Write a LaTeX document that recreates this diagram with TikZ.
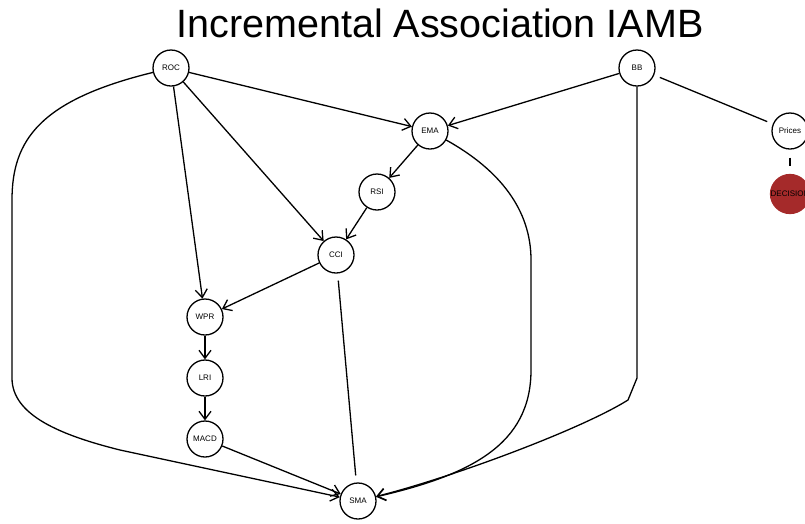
\documentclass[tikz,border=0pt]{standalone}
\usepackage{fontspec}
\setmainfont{Liberation Sans}
\usetikzlibrary{arrows.meta}
\definecolor{decred}{RGB}{165,42,42}
\begin{document}
\begin{tikzpicture}[x=1pt,y=-1pt,
  nd/.style={circle,draw,line width=1.3pt,minimum size=36pt,inner sep=0pt,font=\fontsize{8}{9}\selectfont},
  dirE/.style={line width=1.3pt,-{Straight Barb[length=8pt,width=12pt]}},
  undE/.style={line width=1.3pt,shorten <=6pt,shorten >=6pt}]
\useasboundingbox (0,0) rectangle (805,523);
\node[anchor=base,font=\fontsize{39.5}{44}\selectfont,inner sep=0pt] (title) at (440,37) {Incremental Association IAMB};
% nodes
\node[nd] (ROC) at (171,68) {ROC};
\node[nd] (BB) at (637,68) {BB};
\node[nd] (EMA) at (430,131) {EMA};
\node[nd] (Prices) at (790,131) {Prices};
\node[nd,draw=decred,fill=decred] (DEC) at (790,194) {DECISION};
\node[nd] (RSI) at (377,192) {RSI};
\node[nd] (CCI) at (336,255) {CCI};
\node[nd] (WPR) at (205,317) {WPR};
\node[nd] (LRI) at (205,378) {LRI};
\node[nd] (MACD) at (205,439) {MACD};
\node[nd] (SMA) at (358,501) {SMA};
% straight directed edges
\draw[dirE] (ROC) -- (EMA);
\draw[dirE] (ROC) -- (CCI);
\draw[dirE] (ROC) -- (WPR);
\draw[dirE] (BB) -- (EMA);
\draw[dirE] (EMA) -- (RSI);
\draw[dirE] (RSI) -- (CCI);
\draw[dirE] (CCI) -- (WPR);
\draw[dirE] (WPR) -- (LRI);
\draw[dirE] (LRI) -- (MACD);
\draw[dirE] (MACD) -- (SMA);
% undirected edges
\draw[undE] (BB) -- (Prices);
\draw[undE,shorten <=8pt,shorten >=8pt] (Prices) -- (DEC);
\draw[undE,shorten <=7pt,shorten >=7pt] (CCI) -- (SMA);
% curved edges
\coordinate (l1) at (12,200);
\coordinate (l2) at (12,378);
\coordinate (l3) at (120,450);
\draw[dirE] (ROC) .. controls (40,100) and (12,140) .. (l1) -- (l2)
  .. controls (12,415) and (60,435) .. (l3) -- (SMA);
\coordinate (e1) at (531,260);
\coordinate (e2) at (531,370);
\draw[dirE] (EMA) .. controls (500,170) and (531,210) .. (e1) -- (e2)
  .. controls (531,445) and (470,475) .. (SMA);
\coordinate (b1) at (637,378);
\coordinate (b2) at (628,400);
\draw[dirE] (BB) -- (b1) -- (b2) .. controls (580,430) and (450,478) .. (SMA);
\end{tikzpicture}
\end{document}
